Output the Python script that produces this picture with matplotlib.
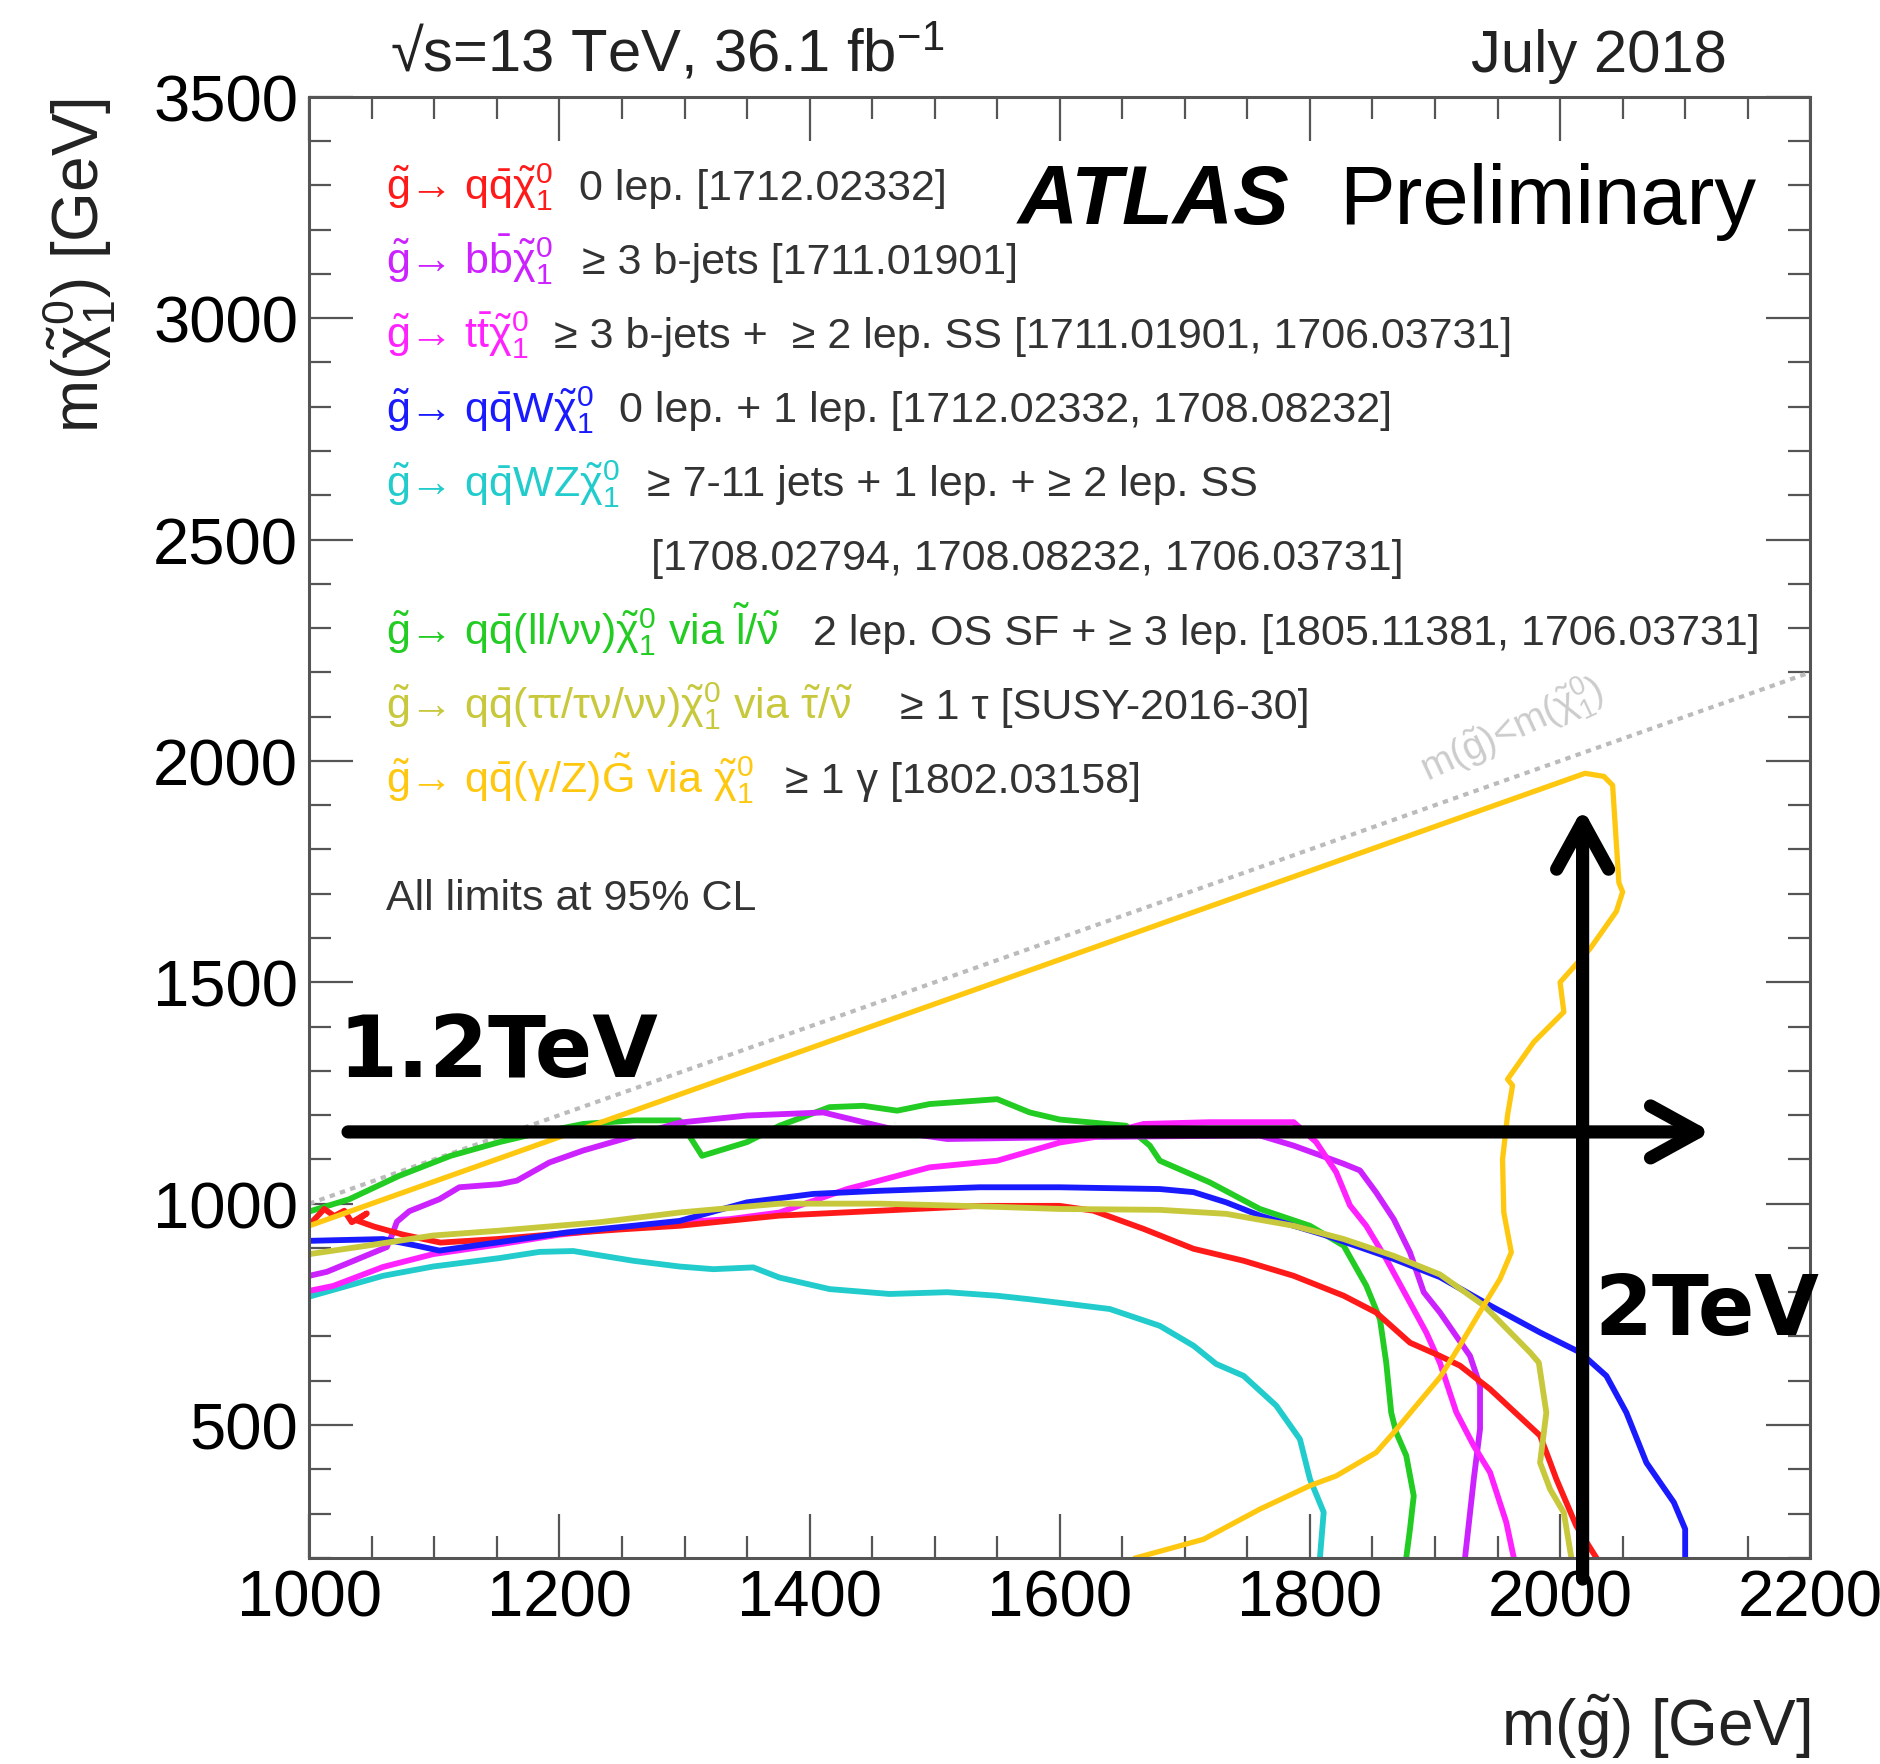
import numpy as np
import matplotlib.pyplot as plt
from matplotlib.ticker import MultipleLocator

plt.rcParams['font.family'] = ['Liberation Sans', 'DejaVu Sans']
plt.rcParams['mathtext.fontset'] = 'custom'
plt.rcParams['mathtext.rm'] = 'Liberation Sans'
plt.rcParams['mathtext.it'] = 'Liberation Sans'
plt.rcParams['mathtext.bf'] = 'Liberation Sans:bold'
plt.rcParams['mathtext.fallback'] = 'stixsans'

# --- limit contours (m_gluino, m_neutralino) in GeV ---
red_x = [1002, 1012, 1020, 1028, 1034, 1046, 1038, 1052, 1075, 1105, 1150, 1200, 1250, 1296,
         1376, 1456, 1536, 1600, 1627, 1667, 1707, 1747, 1787, 1827, 1853, 1880, 1904, 1920,
         1944, 1984, 1992, 1997, 2013, 2029]
red_y = [958, 988, 972, 984, 958, 978, 962, 948, 930, 912, 920, 932, 942, 950,
         973, 984, 995, 995, 984, 943, 898, 871, 837, 792, 754, 686, 656, 634,
         581, 476, 416, 378, 272, 200]

violet_x = [1000, 1014, 1033, 1062, 1067, 1070, 1080, 1104, 1120, 1152, 1166, 1192, 1219, 1246,
            1296, 1350, 1411, 1443, 1483, 1510, 1600, 1760, 1787, 1827, 1840, 1853, 1867, 1880,
            1891, 1904, 1928, 1936, 1936, 1931, 1924]
violet_y = [837, 846, 868, 902, 935, 959, 983, 1010, 1037, 1044, 1052, 1093, 1120, 1142,
            1183, 1199, 1206, 1184, 1157, 1146, 1150, 1154, 1131, 1090, 1075, 1025, 965, 890,
            800, 754, 656, 589, 491, 378, 200]

pink_x = [1000, 1019, 1059, 1099, 1152, 1200, 1250, 1296, 1336, 1376, 1430, 1496, 1550, 1600,
          1627, 1667, 1720, 1787, 1805, 1821, 1832, 1845, 1861, 1877, 1893, 1904, 1917, 1931,
          1944, 1957, 1963]
pink_y = [803, 814, 857, 886, 908, 930, 945, 958, 965, 980, 1033, 1082, 1097, 1138,
          1150, 1180, 1184, 1184, 1139, 1071, 996, 950, 875, 792, 709, 640, 529, 453,
          393, 280, 200]

blue_x = [1000, 1059, 1086, 1104, 1152, 1206, 1259, 1296, 1350, 1403, 1456, 1536, 1600, 1680,
          1707, 1733, 1760, 1813, 1867, 1904, 1944, 1984, 2016, 2037, 2053, 2069, 2091, 2100, 2100]
blue_y = [916, 920, 905, 894, 913, 935, 950, 961, 1003, 1022, 1029, 1037, 1037, 1033,
          1026, 1003, 973, 928, 875, 834, 770, 709, 664, 611, 528, 415, 325, 265, 200]

cyan_x = [1000, 1059, 1099, 1152, 1184, 1211, 1259, 1296, 1323, 1355, 1376, 1416, 1464, 1510,
          1550, 1576, 1600, 1640, 1680, 1707, 1725, 1747, 1773, 1792, 1800, 1811, 1808]
cyan_y = [790, 837, 858, 877, 891, 893, 871, 858, 852, 856, 833, 807, 796, 800,
          792, 784, 776, 762, 724, 679, 638, 611, 544, 468, 378, 303, 200]

green_x = [1002, 1032, 1072, 1113, 1152, 1179, 1219, 1259, 1296, 1314, 1350, 1376, 1416, 1443,
           1470, 1496, 1550, 1576, 1600, 1653, 1672, 1680, 1720, 1760, 1800, 1827, 1845, 1856,
           1861, 1865, 1869, 1877, 1883, 1880, 1877]
green_y = [984, 1010, 1063, 1108, 1139, 1157, 1180, 1188, 1188, 1108, 1139, 1176, 1218, 1221,
           1210, 1225, 1236, 1206, 1190, 1176, 1131, 1097, 1048, 988, 950, 905, 815, 739,
           641, 528, 483, 431, 340, 265, 200]

olive_x = [1000, 1046, 1099, 1152, 1232, 1296, 1376, 1456, 1536, 1600, 1680, 1733, 1787, 1827,
           1867, 1904, 1939, 1976, 1983, 1989, 1984, 1992, 2003, 2009]
olive_y = [886, 905, 928, 939, 958, 980, 1000, 1000, 994, 988, 986, 977, 950, 920,
           882, 840, 770, 664, 641, 528, 415, 355, 302, 200]

gold_x = [1000, 2020, 2035, 2042, 2047, 2050, 2045, 2024, 2000, 2003, 1979, 1958, 1962, 1958,
          1954, 1955, 1961, 1952, 1939, 1920, 1904, 1867, 1853, 1821, 1800, 1760, 1715, 1661]
gold_y = [950, 1972, 1965, 1945, 1725, 1704, 1660, 1576, 1500, 1433, 1365, 1281, 1267, 1200,
          1100, 980, 890, 830, 770, 680, 608, 483, 438, 385, 363, 310, 242, 200]

diag_x = [1000, 2200]
diag_y = [1000, 2200]

# --- legend text ---
proc_labels = [
    r'$\tilde{g}$→ $q\bar{q}\tilde{\chi}^{0}_{1}$',
    r'$\tilde{g}$→ $b\bar{b}\tilde{\chi}^{0}_{1}$',
    r'$\tilde{g}$→ $t\bar{t}\tilde{\chi}^{0}_{1}$',
    r'$\tilde{g}$→ $q\bar{q}W\tilde{\chi}^{0}_{1}$',
    r'$\tilde{g}$→ $q\bar{q}WZ\tilde{\chi}^{0}_{1}$',
    '',
    r'$\tilde{g}$→ $q\bar{q}(ll/\nu\nu)\tilde{\chi}^{0}_{1}$ via $\tilde{l}/\tilde{\nu}$',
    r'$\tilde{g}$→ $q\bar{q}(\tau\tau/\tau\nu/\nu\nu)\tilde{\chi}^{0}_{1}$ via $\tilde{\tau}/\tilde{\nu}$',
    r'$\tilde{g}$→ $q\bar{q}(\gamma/Z)\tilde{G}$ via $\tilde{\chi}^{0}_{1}$',
]
proc_desc = [
    '0 lep. [1712.02332]',
    '≥ 3 b-jets [1711.01901]',
    '≥ 3 b-jets +  ≥ 2 lep. SS [1711.01901, 1706.03731]',
    '0 lep. + 1 lep. [1712.02332, 1708.08232]',
    '≥ 7-11 jets + 1 lep. + ≥ 2 lep. SS',
    '[1708.02794, 1708.08232, 1706.03731]',
    '2 lep. OS SF + ≥ 3 lep. [1805.11381, 1706.03731]',
    '≥ 1 τ [SUSY-2016-30]',
    '≥ 1 γ [1802.03158]',
]
proc_colors = ['#ff1a1a', '#cc22ff', '#ff22ff', '#1a1aff', '#22cccc', '#333333',
               '#22cc22', '#c8c83c', '#ffc810']
desc_x = [1216, 1218, 1196, 1248, 1270, 1273, 1403, 1472, 1380]

fig = plt.figure(figsize=(18.8, 17.65), dpi=100)
ax = fig.add_axes([0.1645, 0.1168, 0.7984, 0.8278])

ax.plot(diag_x, diag_y, color='#bbbbbb', lw=3, ls=(0, (1.3, 1.3)))
lw = 4.2
ax.plot(cyan_x, cyan_y, color='#22cccc', lw=lw)
ax.plot(green_x, green_y, color='#22cc22', lw=lw)
ax.plot(violet_x, violet_y, color='#cc22ff', lw=lw)
ax.plot(pink_x, pink_y, color='#ff22ff', lw=lw)
ax.plot(red_x, red_y, color='#ff1a1a', lw=lw)
ax.plot(blue_x, blue_y, color='#1a1aff', lw=lw)
ax.plot(olive_x, olive_y, color='#c8c83c', lw=lw)
ax.plot(gold_x, gold_y, color='#ffc810', lw=3.8)

ax.set_xlim(1000, 2200)
ax.set_ylim(200, 3500)
ax.xaxis.set_major_locator(MultipleLocator(200))
ax.xaxis.set_minor_locator(MultipleLocator(50))
ax.yaxis.set_major_locator(MultipleLocator(500))
ax.yaxis.set_minor_locator(MultipleLocator(100))
ax.tick_params(which='both', direction='in', top=True, right=True,
               color='#555555', width=1.6, labelsize=47, pad=8)
ax.tick_params(which='major', length=32)
ax.tick_params(which='minor', length=16)
for sp in ax.spines.values():
    sp.set_color('#555555')
    sp.set_linewidth(2.2)

# axis titles
ax.text(1.0, -0.115, r'm($\tilde{g}$) [GeV]', transform=ax.transAxes,
        ha='right', va='center', fontsize=46, color='#222222')
ax.text(-0.154, 1.0, r'm($\tilde{\chi}^{0}_{1}$) [GeV]', transform=ax.transAxes,
        ha='center', va='top', rotation=90, fontsize=46, color='#222222')

fig.text(0.2074, 0.9592, '√s=13 TeV, 36.1 fb$^{-1}$', fontsize=43, color='#222222')
fig.text(0.9186, 0.9592, 'July 2018', fontsize=43, ha='right', color='#222222')

ax.text(1566, 3216, 'ATLAS', fontsize=60, fontweight='bold', fontstyle='italic')
ax.text(1823, 3216, 'Preliminary', fontsize=60)

# legend rows
for i, (lab, desc, col, dx) in enumerate(zip(proc_labels, proc_desc, proc_colors, desc_x)):
    yb = 3270 - 167.5 * i
    if lab:
        ax.text(1061.6, yb, lab, color=col, fontsize=31)
    ax.text(dx, yb, desc, color='#333333', fontsize=31)
ax.text(1061.6, 1666, 'All limits at 95% CL', color='#333333', fontsize=31)

ax.text(1962, 2072, r'm($\tilde{g}$)<m($\tilde{\chi}^{0}_{1}$)', color='#cccccc',
        fontsize=28, rotation=25, ha='center', va='center')

# annotations
arrow_style = dict(arrowstyle='->,head_length=1.0,head_width=0.55', lw=9.5, color='black',
                   shrinkA=0, shrinkB=0, mutation_scale=34)
ax.annotate('', xy=(2121, 1162), xytext=(1031, 1162), arrowprops=arrow_style,
            annotation_clip=False)
ax.annotate('', xy=(2018, 1893), xytext=(2018, 152), arrowprops=arrow_style,
            annotation_clip=False)
ax.text(1023.7, 1288, '1.2TeV', fontsize=61, fontweight='bold', family='DejaVu Sans')
ax.text(2027.7, 706.6, '2TeV', fontsize=60, fontweight='bold', family='DejaVu Sans',
        clip_on=False)

fig.savefig('out.png', dpi=100)
